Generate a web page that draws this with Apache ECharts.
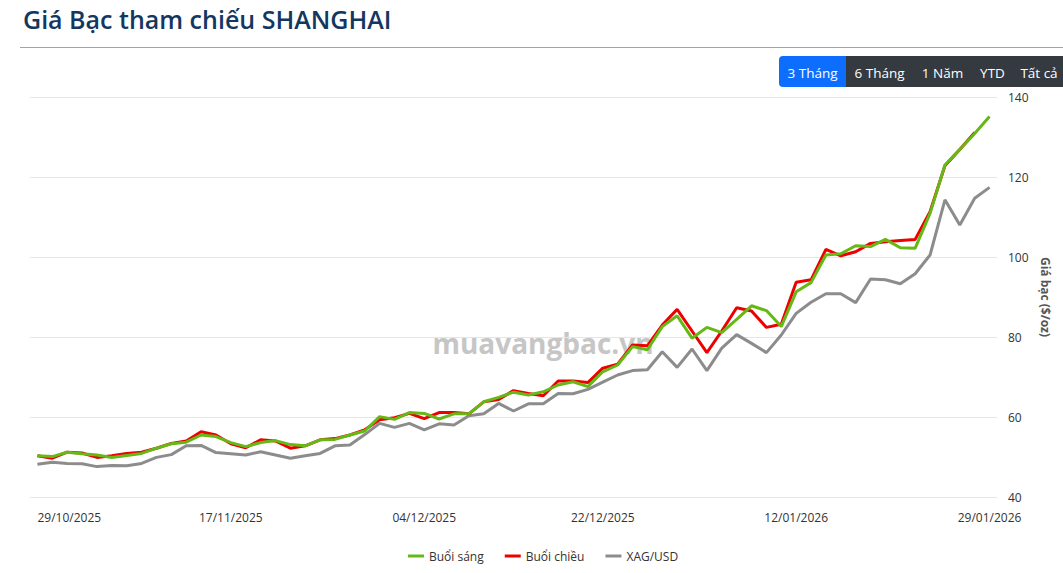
<!DOCTYPE html>
<html>
<head>
<meta charset="utf-8">
<script src="https://cdn.jsdelivr.net/npm/echarts@6/dist/echarts.min.js"></script>
<style>
  html, body { margin: 0; padding: 0; background: #fff; }
  #chart { width: 1063px; height: 573px; }
</style>
</head>
<body>
<div id="chart"></div>
<script>
// ---- Data ----
const dates = [
  '29/10/2025','30/10/2025','31/10/2025','03/11/2025','04/11/2025','05/11/2025','06/11/2025','07/11/2025',
  '10/11/2025','11/11/2025','12/11/2025','13/11/2025','14/11/2025','17/11/2025','18/11/2025','19/11/2025',
  '20/11/2025','21/11/2025','24/11/2025','25/11/2025','26/11/2025','27/11/2025','28/11/2025','01/12/2025',
  '02/12/2025','03/12/2025','04/12/2025','05/12/2025','08/12/2025','09/12/2025','10/12/2025','11/12/2025',
  '12/12/2025','15/12/2025','16/12/2025','17/12/2025','18/12/2025','19/12/2025','22/12/2025','23/12/2025',
  '24/12/2025','25/12/2025','26/12/2025','29/12/2025','30/12/2025','31/12/2025','05/01/2026','06/01/2026',
  '07/01/2026','08/01/2026','09/01/2026','12/01/2026','13/01/2026','14/01/2026','15/01/2026','16/01/2026',
  '19/01/2026','20/01/2026','21/01/2026','22/01/2026','23/01/2026','26/01/2026','27/01/2026','28/01/2026',
  '29/01/2026'
];
const tickLabelDates = ['29/10/2025','17/11/2025','04/12/2025','22/12/2025','12/01/2026','29/01/2026'];

const buoiSang = [
  50.3, 50.1, 51.2, 50.8, 50.5, 49.9, 50.4, 50.9, 52.2, 53.3, 53.7, 55.5, 55.1, 53.6, 52.6, 53.6,
  54.1, 53.1, 52.8, 54.3, 54.4, 55.5, 56.5, 60.1, 59.4, 61.1, 60.9, 59.5, 60.8, 60.8, 63.8, 64.9,
  66.2, 65.5, 66.3, 68.0, 68.8, 67.6, 71.3, 73.0, 77.6, 76.8, 82.6, 85.3, 79.7, 82.4, 81.1, 84.4,
  87.8, 86.6, 82.6, 91.3, 93.6, 100.5, 100.8, 102.8, 102.6, 104.4, 102.3, 102.2, 110.9, 123.0, 126.9, 130.9,
  135.1
];
const buoiChieu = [
  50.3, 49.7, 51.2, 51.0, 49.9, 50.3, 50.9, 51.2, 52.2, 53.4, 54.0, 56.3, 55.5, 53.3, 52.3, 54.3,
  54.0, 52.2, 52.8, 54.3, 54.6, 55.5, 56.8, 59.3, 59.8, 60.9, 59.6, 61.1, 61.1, 60.8, 63.8, 64.4,
  66.6, 65.9, 65.3, 69.0, 69.0, 68.6, 72.2, 73.2, 78.0, 77.8, 83.0, 86.9, 81.5, 76.1, 81.5, 87.3,
  86.5, 82.4, 83.2, 93.7, 94.3, 101.9, 100.3, 101.3, 103.4, 103.8, 104.1, 104.4, 111.3, 122.8, 126.9, 131.1
];
const xagUsd = [
  48.2, 48.7, 48.4, 48.3, 47.6, 47.9, 47.8, 48.4, 49.9, 50.6, 52.8, 52.9, 51.1, 50.8, 50.5, 51.3,
  50.5, 49.7, 50.3, 50.9, 52.8, 53.0, 55.6, 58.4, 57.4, 58.4, 56.8, 58.3, 58.0, 60.3, 60.8, 63.4,
  61.5, 63.3, 63.3, 65.9, 65.8, 66.9, 68.7, 70.5, 71.6, 71.8, 76.3, 72.4, 77.0, 71.6, 77.2, 80.6,
  78.4, 76.1, 80.5, 85.9, 88.7, 90.8, 90.8, 88.6, 94.5, 94.3, 93.3, 95.8, 100.5, 114.3, 108.0, 114.7,
  117.4
];
const seriesNames = ['Buổi sáng', 'Buổi chiều', 'XAG/USD'];
const rangeButtons = ['3 Tháng', '6 Tháng', '1 Năm', 'YTD', 'Tất cả'];

// ---- Chart ----
const FONT = '"Open Sans", "Noto Sans", sans-serif';
const chart = echarts.init(document.getElementById('chart'), null, { renderer: 'svg' });

const btnX = [779, 846, 913, 972, 1013];
const btnW = [67, 67, 59, 41, 52];
const btnGraphics = [];
rangeButtons.forEach((label, i) => {
  btnGraphics.push({
    type: 'rect', z: 10,
    shape: { x: btnX[i], y: 56, width: btnW[i] + (i === 4 ? 10 : 0), height: 31, r: i === 0 ? [4, 0, 0, 4] : 0 },
    style: { fill: i === 0 ? '#0d6efd' : '#343a40' }
  });
  btnGraphics.push({
    type: 'text', z: 11,
    x: btnX[i] + btnW[i] / 2, y: 72.5,
    style: { text: label, fill: '#fff', font: '13.5px ' + FONT, textAlign: 'center', textVerticalAlign: 'middle' }
  });
});

const option = {
  animation: false,
  backgroundColor: '#fff',
  title: {
    text: 'Giá Bạc tham chiếu SHANGHAI',
    left: 18, top: 1,
    textStyle: { fontFamily: FONT, fontSize: 25, fontWeight: 600, color: '#133760' }
  },
  graphic: [
    { type: 'line', shape: { x1: 20, y1: 47.5, x2: 1063, y2: 47.5 }, style: { stroke: '#a3a3a3', lineWidth: 1 } },
    {
      type: 'text', z: -1, x: 543, y: 343,
      style: { text: 'muavangbac.vn', fill: '#c6c6c6', font: 'bold 28px ' + FONT, textAlign: 'center', textVerticalAlign: 'middle' }
    }
  ].concat(btnGraphics),
  legend: {
    bottom: 6, left: 403,
    icon: 'rect', itemWidth: 16, itemHeight: 3, itemGap: 21,
    textStyle: { fontFamily: FONT, fontSize: 12, color: '#333' },
    data: seriesNames
  },
  grid: { left: 30, right: 66, top: 97, bottom: 76, containLabel: false },
  xAxis: {
    type: 'category',
    boundaryGap: true,
    data: dates,
    axisLine: { show: false },
    axisTick: { show: false },
    axisLabel: {
      interval: (idx, val) => tickLabelDates.includes(val),
      alignMinLabel: 'left',
      margin: 14,
      fontFamily: FONT, fontSize: 12, color: '#333'
    },
    splitLine: { show: false }
  },
  yAxis: {
    type: 'value',
    position: 'right',
    min: 40, max: 140, interval: 20,
    name: 'Giá bạc ($/oz)',
    nameLocation: 'middle',
    nameRotate: -90,
    nameGap: 42,
    nameTextStyle: { fontFamily: FONT, fontSize: 12, fontWeight: 'bold', color: '#555' },
    axisLine: { show: false },
    axisTick: { show: false },
    axisLabel: { margin: 11, fontFamily: FONT, fontSize: 12, color: '#333' },
    splitLine: { lineStyle: { color: '#e6e6e6', width: 1 } }
  },
  series: [
    {
      name: seriesNames[2], type: 'line', data: xagUsd, z: 2,
      showSymbol: false, symbol: 'none',
      lineStyle: { color: '#8c8c8c', width: 3 }, itemStyle: { color: '#8c8c8c' }
    },
    {
      name: seriesNames[1], type: 'line', data: buoiChieu, z: 3,
      showSymbol: false, symbol: 'none',
      lineStyle: { color: '#ee0000', width: 3 }, itemStyle: { color: '#ee0000' }
    },
    {
      name: seriesNames[0], type: 'line', data: buoiSang, z: 4,
      showSymbol: false, symbol: 'none',
      lineStyle: { color: '#66b816', width: 3 }, itemStyle: { color: '#66b816' }
    }
  ]
};
chart.setOption(option);
</script>
</body>
</html>
